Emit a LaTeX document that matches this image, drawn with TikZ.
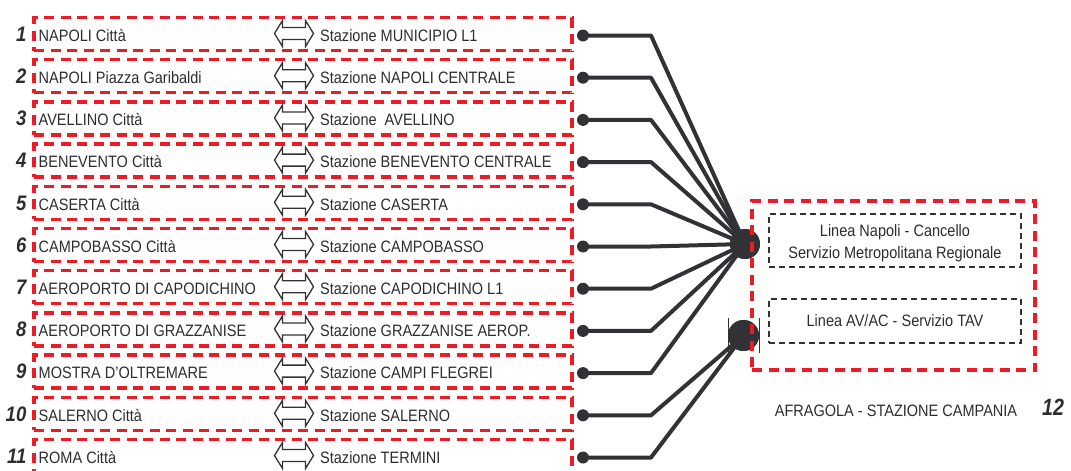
\documentclass[tikz,border=0pt]{standalone}
\usepackage{fontspec}
\setmainfont{Liberation Sans}[FakeStretch=0.88]
\usepackage{graphicx}
\definecolor{dashred}{RGB}{237,28,36}
\definecolor{ink}{RGB}{50,50,54}
\definecolor{txt}{RGB}{45,45,48}

\tikzset{
  rowbox/.style={draw=dashred, line width=3.3pt, dash pattern=on 10pt off 6.5pt,
    minimum width=538pt, minimum height=33pt, inner sep=0pt},
  bigbox/.style={draw=dashred, line width=3.3pt, dash pattern=on 10pt off 6.5pt,
    minimum width=283pt, minimum height=169pt, inner sep=0pt},
  servbox/.style={draw=ink, line width=2pt, dash pattern=on 6pt off 4pt,
    minimum width=252pt, inner sep=0pt},
  label/.style={text=txt, font=\fontsize{16.5}{22.5}\selectfont, inner sep=0pt},
  rownum/.style={text=txt, font=\fontsize{21}{21}\selectfont\bfseries\itshape,
    inner sep=0pt, anchor=base east},
  dot/.style={circle, fill=ink, minimum size=12pt, inner sep=0pt},
  hub/.style={circle, fill=ink, inner sep=0pt},
  link/.style={draw=ink, line width=4pt, line join=round},
  dblarrow/.pic={
    \draw[ink, line width=1.3pt, line join=miter]
      (-19.5,0) -- (-11.5,-13) -- (-11.5,-6) -- (11.5,-6) -- (11.5,-13) -- (19.5,0)
      -- (11.5,13) -- (11.5,6) -- (-11.5,6) -- (-11.5,13) -- cycle;
  },
}

\begin{document}
\begin{tikzpicture}[x=1pt, y=-1pt]
  \useasboundingbox (0,0) rectangle (1071,471);
  \clip (0,0) rectangle (1071,471);

  % hubs of the two services
  \node[hub, minimum size=30pt] (hubA) at (745,244) {};
  \node[hub, minimum size=31pt] (hubB) at (743.5,335.5) {};

  % one row per destination
  \foreach \i/\city/\stn/\h in {
      1/{NAPOLI Città}/{Stazione MUNICIPIO L1}/hubA,
      2/{NAPOLI Piazza Garibaldi}/{Stazione NAPOLI CENTRALE}/hubA,
      3/{AVELLINO Città}/{Stazione\hspace{4pt} AVELLINO}/hubA,
      4/{BENEVENTO Città}/{Stazione BENEVENTO CENTRALE}/hubA,
      5/{CASERTA Città}/{Stazione CASERTA}/hubA,
      6/{CAMPOBASSO Città}/{Stazione CAMPOBASSO}/hubA,
      7/{AEROPORTO DI CAPODICHINO}/{Stazione CAPODICHINO L1}/hubA,
      8/{AEROPORTO DI GRAZZANISE}/{Stazione GRAZZANISE AEROP.}/hubA,
      9/{MOSTRA D'OLTREMARE}/{Stazione CAMPI FLEGREI}/hubA,
      10/{SALERNO Città}/{Stazione SALERNO}/hubB,
      11/{ROMA Città}/{Stazione TERMINI}/hubB} {
    \pgfmathsetmacro\y{35.5+(\i-1)*42.2}
    \node[rowbox] (box\i) at (303,\y-1.5) {};
    \node[rownum] (num\i) at (26.5,\y+5.8) {\i};
    \node[label, anchor=base west] (city\i) at (38.5,\y+5.8) {\city};
    \pic at (294,\y-2) {dblarrow};
    \node[label, anchor=base west] (stn\i) at (320,\y+5.8) {\stn};
    \node[dot] (dot\i) at (583,\y) {};
    \coordinate (elb\i) at (651,\y);
    \draw[link] (dot\i.center) -- (elb\i) -- (\h.center);
  }

  % redraw hubs over the converging links
  \node[hub, minimum size=30pt] at (hubA) {};
  \node[hub, minimum size=31pt] at (hubB) {};
  \draw[ink, line width=0.6pt]
    ([shift={(-15.5,-17.5)}]hubB.center) -- ++(0,35)
    ([shift={(15.5,-17.5)}]hubB.center) -- ++(0,35);

  % Afragola station block
  \node[bigbox] (station) at (893.5,285.5) {};
  \node[servbox, minimum height=53pt] (srvA) at (895,240.5) {};
  \node[label, align=center] (srvAtxt) at (895,243) {Linea Napoli - Cancello\\Servizio Metropolitana Regionale};
  \node[servbox, minimum height=44pt, label] (srvB) at (895,321) {Linea AV/AC - Servizio TAV};

  \node[label, anchor=base] (stname) at (896,416) {AFRAGOLA - STAZIONE CAMPANIA};
  \node[rownum, anchor=base west, font=\fontsize{23.5}{24}\selectfont\bfseries\itshape]
    (num12) at (1042,415) {\scalebox{0.95}[1]{12}};
\end{tikzpicture}
\end{document}
